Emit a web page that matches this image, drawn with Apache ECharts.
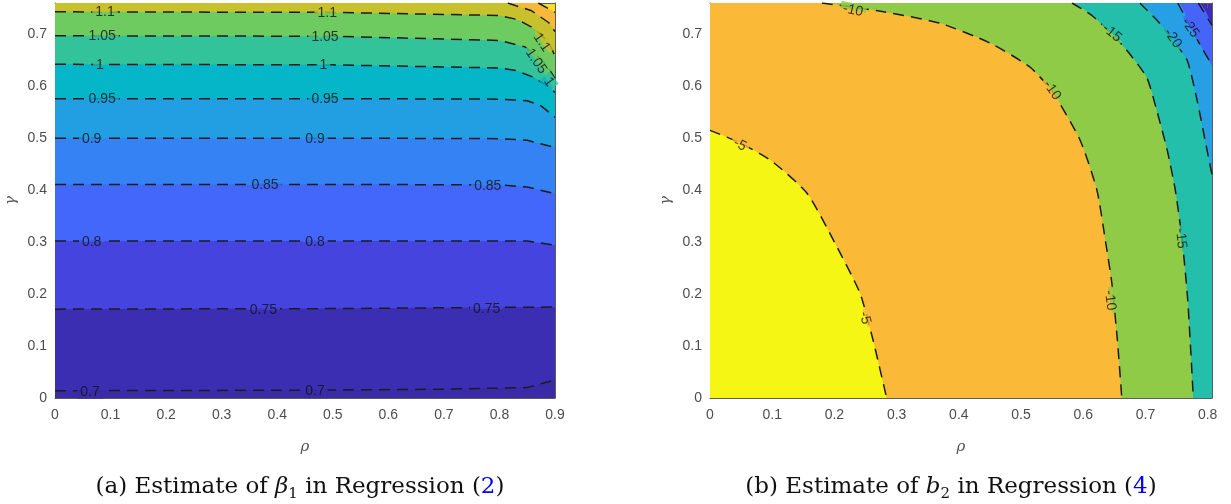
<!DOCTYPE html>
<html>
<head>
<meta charset="utf-8">
<script src="https://cdn.jsdelivr.net/npm/echarts@6/dist/echarts.min.js"></script>
<style>
html, body { margin: 0; padding: 0; background: #fff; }
#main { width: 1231px; height: 504px; }
</style>
</head>
<body>
<div id="main"></div>
<script>
// panel (a): contour lines of the beta1 estimate, points are [rho, gamma]
const c070 = [[0, 0.014], [0.45, 0.015], [0.7, 0.017], [0.85, 0.02], [0.9, 0.035]];
const c075 = [[0, 0.171], [0.5, 0.172], [0.75, 0.174], [0.9, 0.175]];
const c080 = [[0, 0.302], [0.5, 0.302], [0.85, 0.302], [0.9, 0.294]];
const c085 = [[0, 0.411], [0.5, 0.411], [0.8, 0.41], [0.85, 0.406], [0.9, 0.393]];
const c090 = [[0, 0.5], [0.5, 0.5], [0.8, 0.499], [0.85, 0.496], [0.9, 0.482]];
const c095 = [[0, 0.576], [0.5, 0.576], [0.8, 0.575], [0.85, 0.572], [0.875, 0.562], [0.9, 0.54]];
const c100 = [[0, 0.642], [0.5, 0.641], [0.8, 0.635], [0.83, 0.63], [0.864, 0.616], [0.889, 0.598], [0.9, 0.588]];
const c105 = [[0, 0.697], [0.5, 0.696], [0.8, 0.688], [0.845, 0.676], [0.867, 0.66], [0.885, 0.64], [0.9, 0.615]];
const c110 = [[0, 0.743], [0.5, 0.742], [0.8, 0.736], [0.833, 0.728], [0.864, 0.71], [0.889, 0.684], [0.9, 0.658]];
const c115 = [[0.815, 0.76], [0.858, 0.745], [0.889, 0.722], [0.9, 0.705]];
const c120 = [[0.87, 0.76], [0.9, 0.742]];

const levelsA = [1.2, 1.15, 1.1, 1.05, 1, 0.95, 0.9, 0.85, 0.8, 0.75, 0.7];
const linesA = [c120, c115, c110, c105, c100, c095, c090, c085, c080, c075, c070];
const fillsA = ['#f7b93c', '#c8c12b', '#6dcb60', '#33c39b', '#05b5c8', '#229fe2', '#3482f4', '#4366fb', '#4544de', '#3c2eb3', '#3a2aa6'];
const outerA = '#f9df2a';

// contour labels: [text, rho, gamma, rotation]
const labelsA = [
  ['1.1', 0.09, 0.742, 0], ['1.1', 0.49, 0.741, 0], ['1.1', 0.876, 0.684, -55],
  ['1.05', 0.085, 0.696, 0], ['1.05', 0.486, 0.695, 0], ['1.05', 0.866, 0.648, -55],
  ['1', 0.081, 0.641, 0], ['1', 0.483, 0.64, 0], ['1', 0.889, 0.608, -55],
  ['0.95', 0.085, 0.575, 0], ['0.95', 0.486, 0.575, 0],
  ['0.9', 0.066, 0.499, 0], ['0.9', 0.468, 0.498, 0],
  ['0.85', 0.378, 0.41, 0], ['0.85', 0.779, 0.407, 0],
  ['0.8', 0.066, 0.3, 0], ['0.8', 0.468, 0.3, 0],
  ['0.75', 0.375, 0.17, 0], ['0.75', 0.777, 0.171, 0],
  ['0.7', 0.063, 0.012, 0], ['0.7', 0.468, 0.013, 0]
];

// panel (b): contour lines of the b2 estimate
const r05 = [[0, 0.515], [0.05, 0.49], [0.1, 0.455], [0.156, 0.394], [0.2, 0.3], [0.241, 0.202], [0.262, 0.112], [0.284, 0]];
const r10 = [[0.18, 0.76], [0.27, 0.745], [0.37, 0.721], [0.45, 0.683], [0.514, 0.637], [0.55, 0.59], [0.595, 0.496], [0.622, 0.4], [0.636, 0.3], [0.646, 0.221], [0.655, 0.11], [0.662, 0]];
const r15 = [[0.582, 0.76], [0.615, 0.735], [0.646, 0.7], [0.67, 0.669], [0.702, 0.617], [0.718, 0.554], [0.735, 0.477], [0.748, 0.4], [0.759, 0.304], [0.768, 0.188], [0.777, 0]];
const r20 = [[0.691, 0.76], [0.72, 0.725], [0.743, 0.69], [0.767, 0.65], [0.783, 0.573], [0.799, 0.477], [0.807, 0.43]];
const r25 = [[0.752, 0.76], [0.772, 0.715], [0.783, 0.69], [0.807, 0.64]];
const r30 = [[0.785, 0.76], [0.807, 0.717]];

const levelsB = [-30, -25, -20, -15, -10, -5];
const linesB = [r30, r25, r20, r15, r10, r05];
const fillsB = ['#4465f8', '#279fe4', '#23bfab', '#90cb48', '#fbb938', '#f6f614'];
const outerB = '#3d2cb6';

const labelsB = [
  ['-10', 0.23, 0.746, -12], ['-10', 0.55, 0.592, -55], ['-10', 0.643, 0.188, -82],
  ['-5', 0.048, 0.487, -28], ['-5', 0.249, 0.154, -75],
  ['-15', 0.646, 0.702, -40], ['-15', 0.757, 0.307, -84],
  ['-20', 0.744, 0.692, -55], ['-25', 0.772, 0.712, -55]
];

const yMax = 0.76;
const axisCol = '#5c5c5c';
const tickFmt = v => Math.abs(v * 10 - Math.round(v * 10)) < 1e-6 ? String(Math.round(v * 10) / 10) : '';

function xAx(grid, max, bottom) {
  return {
    type: 'value', gridIndex: grid, min: 0, max: max, interval: 0.1,
    position: bottom ? 'bottom' : 'top',
    axisLine: { show: true, onZero: false, lineStyle: { color: axisCol, width: 1 } },
    axisTick: { show: true, inside: true, length: 5, lineStyle: { color: axisCol } },
    axisLabel: { show: bottom, color: '#4d4d4d', fontSize: 14, margin: 10, fontFamily: 'Liberation Sans', formatter: tickFmt },
    splitLine: { show: false },
    name: bottom ? 'ρ' : '', nameLocation: 'middle', nameGap: 42,
    nameTextStyle: { color: '#555', fontSize: 15, fontFamily: 'DejaVu Serif', fontStyle: 'italic' }
  };
}
function yAx(grid, left) {
  return {
    type: 'value', gridIndex: grid, min: 0, max: yMax, interval: 0.1,
    position: left ? 'left' : 'right',
    axisLine: { show: true, onZero: false, lineStyle: { color: axisCol, width: 1 } },
    axisTick: { show: true, inside: true, length: 5, lineStyle: { color: axisCol } },
    axisLabel: { show: left, color: '#4d4d4d', fontSize: 14, margin: 8, fontFamily: 'Liberation Sans', formatter: tickFmt },
    splitLine: { show: false },
    name: left ? 'γ' : '', nameLocation: 'middle', nameGap: 36,
    nameTextStyle: { color: '#555', fontSize: 15, fontFamily: 'DejaVu Serif', fontStyle: 'italic' }
  };
}

function buildSeries(levels, lines, fills, outer, labels, axis, smooth, upward) {
  const out = [];
  lines.forEach((pts, i) => {
    // region under each contour, painted from the outermost level inwards
    const area = pts[0][0] > 0 ? [[0, yMax]].concat(pts) : pts;
    out.push({
      type: 'line', xAxisIndex: axis, yAxisIndex: axis, data: area, symbol: 'none', smooth: smooth,
      silent: true, lineStyle: { width: 0, opacity: 0 },
      areaStyle: { color: fills[i], opacity: 1, origin: 'start' }, z: 1
    });
  });
  lines.forEach(pts => {
    out.push({
      type: 'line', xAxisIndex: axis, yAxisIndex: axis, data: pts, symbol: 'none', smooth: smooth,
      silent: true, lineStyle: { color: '#1c1c1c', width: 1.5, type: [11, 7] }, z: 3
    });
  });
  out.push({
    type: 'scatter', xAxisIndex: axis, yAxisIndex: axis, symbolSize: 1, silent: true, z: 4,
    itemStyle: { color: 'rgba(0,0,0,0)' },
    data: labels.map(l => {
      // label box hides the dashed line: top half one band, bottom half the other
      const k = levels.findIndex(v => Math.abs(v - parseFloat(l[0])) < 1e-9);
      const inner = fills[k];
      const outerCol = k > 0 ? fills[k - 1] : outer;
      const top = upward ? outerCol : inner;
      const bot = upward ? inner : outerCol;
      return {
        value: [l[1], l[2]],
        label: {
          show: true, position: 'inside', formatter: l[0], rotate: l[3], color: '#111',
          fontSize: 14, fontFamily: 'Liberation Sans', padding: [0, 3],
          backgroundColor: {
            type: 'linear', x: 0, y: 0, x2: 0, y2: 1,
            colorStops: [{ offset: 0, color: top }, { offset: 0.5, color: top }, { offset: 0.5, color: bot }, { offset: 1, color: bot }]
          }
        }
      };
    })
  });
  return out;
}

function caption(x, tag, sym, sub, ref) {
  return {
    type: 'text', x: x, y: 487, silent: true,
    style: {
      text: '{a|(' + tag + ') Estimate of }{i|' + sym + '}{s|' + sub + '}{a| in Regression (}{b|' + ref + '}{a|)}',
      align: 'center', verticalAlign: 'middle',
      rich: {
        a: { fontFamily: 'DejaVu Serif', fontSize: 23, fill: '#111', lineHeight: 30, verticalAlign: 'middle' },
        i: { fontFamily: 'DejaVu Serif', fontSize: 23, fontStyle: 'italic', fill: '#111', lineHeight: 30, verticalAlign: 'middle' },
        s: { fontFamily: 'DejaVu Serif', fontSize: 15, fill: '#111', lineHeight: 16, verticalAlign: 'bottom' },
        b: { fontFamily: 'DejaVu Serif', fontSize: 23, fill: '#0000ff', lineHeight: 30, verticalAlign: 'middle' }
      }
    }
  };
}

const chart = echarts.init(document.getElementById('main'), null, { renderer: 'canvas' });
chart.setOption({
  animation: false,
  grid: [
    { left: 55, top: 3, width: 500, height: 395, show: true, backgroundColor: outerA, borderWidth: 0 },
    { left: 710, top: 3, width: 502, height: 395, show: true, backgroundColor: outerB, borderWidth: 0 }
  ],
  xAxis: [xAx(0, 0.9, true), xAx(1, 0.807, true), xAx(0, 0.9, false), xAx(1, 0.807, false)],
  yAxis: [yAx(0, true), yAx(1, true), yAx(0, false), yAx(1, false)],
  series: buildSeries(levelsA, linesA, fillsA, outerA, labelsA, 0, false, true)
    .concat(buildSeries(levelsB, linesB, fillsB, outerB, labelsB, 1, 0.2, true)),
  graphic: [caption(300, 'a', 'β', '1', '2'), caption(951, 'b', 'b', '2', '4')]
});
</script>
</body>
</html>
